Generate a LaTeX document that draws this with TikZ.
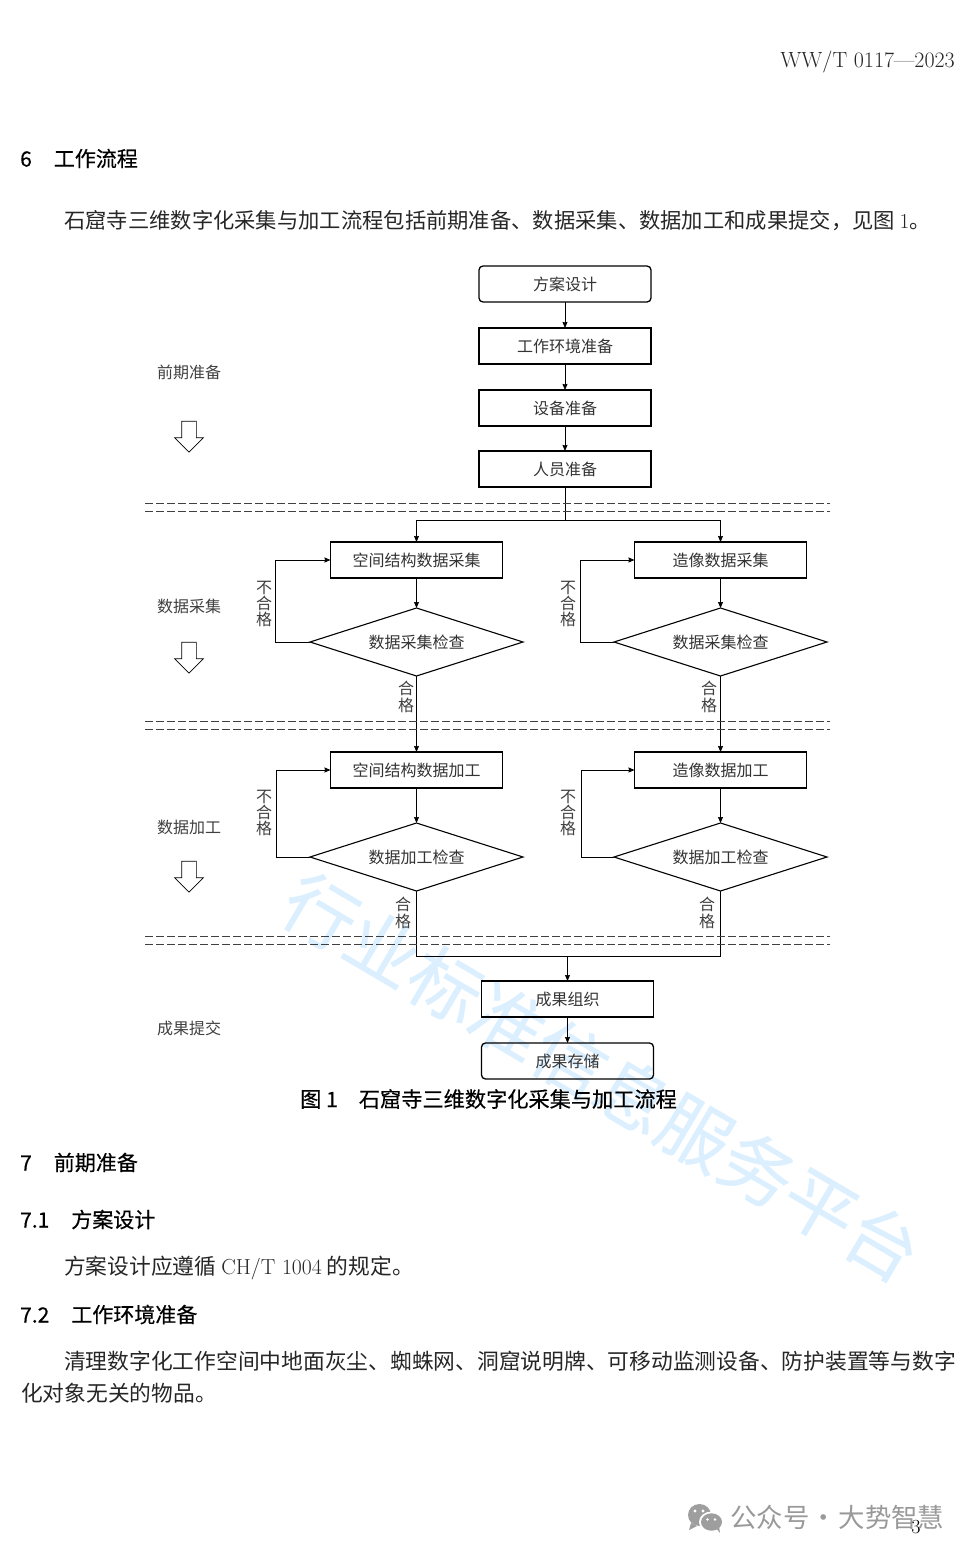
\documentclass[tikz,border=0pt]{standalone}
\usepackage{fontspec}
\usepackage{tikz}
\usetikzlibrary{arrows.meta,positioning,shapes,calc}
\newfontfamily\cjk{Noto Sans CJK SC}
\newfontfamily\cjkhead[FakeBold=0.4]{Noto Sans CJK SC}

\begin{document}
\begin{tikzpicture}[
    x=1pt, y=-1pt,
    node distance=26pt,
    box/.style={rectangle, draw, line width=1.3pt, outer sep=0pt, minimum width=172pt, minimum height=36pt, align=center, text=black!80, font=\cjk\fontsize{16}{16}\selectfont},
    startbox/.style={box, rounded corners=4pt},
    checkbox/.style={diamond, draw, line width=1.1pt, outer sep=0pt, inner sep=0pt, aspect=3.13, minimum width=213pt, minimum height=68pt, align=center, text=black!80, font=\cjk\fontsize{16}{16}\selectfont},
    flow/.style={-{Stealth[length=6pt,width=5pt,inset=0.5pt]}, line width=0.8pt},
    plainline/.style={line width=0.8pt},
    stage/.style={font=\cjk\fontsize{16}{16}\selectfont, text=black!75},
    verdict/.style={align=center, inner sep=0pt, font=\cjk\fontsize{16}{16.3}\selectfont, text=black!75},
    hollow/.style={single arrow, draw, line width=0.7pt, shape border rotate=270, minimum height=31pt, single arrow head extend=7pt, inner sep=0pt, outer sep=0pt},
    sepline/.style={dash pattern=on 8pt off 3pt, line width=0.7pt, black!75},
    pagetext/.style={anchor=west, inner sep=0pt, font=\cjk\fontsize{21.75}{21.75}\selectfont, text=black!85},
    headtext/.style={anchor=west, inner sep=0pt, font=\cjkhead\fontsize{21}{21}\selectfont}
]
\useasboundingbox (0,0) rectangle (974,1555);

% Watermark behind everything
\node[rotate=-30.5, inner sep=0pt, text=blue!45!cyan!14, font=\cjkhead\fontsize{72.5}{72.5}\selectfont] (stamp) at (602,1077) {行业标准信息服务平台};

% Page text
\node[anchor=east, inner sep=0pt, font=\fontsize{22}{22}\selectfont, text=black!85] (header) at (955,62) {WW/T 0117---2023};
\node[headtext] (secsix) at (20,158.5) {6\hspace{22pt}工作流程};
\node[pagetext, font=\cjk\fontsize{21.3}{21.3}\selectfont] (intro) at (64,221) {石窟寺三维数字化采集与加工流程包括前期准备、数据采集、数据加工和成果提交，见图 {\rmfamily 1}。};
\node[headtext, font=\cjkhead\fontsize{21.2}{21.2}\selectfont] (caption) at (300,1099) {图 1\hspace{21pt}石窟寺三维数字化采集与加工流程};
\node[headtext] (secseven) at (20,1162.5) {7\hspace{22pt}前期准备};
\node[headtext] (secone) at (20,1219.5) {7.1\hspace{22pt}方案设计};
\node[pagetext] (secnote) at (64,1267.5) {方案设计应遵循 {\rmfamily CH/T 1004} 的规定。};
\node[headtext] (sectwo) at (20,1314.5) {7.2\hspace{22pt}工作环境准备};
\node[pagetext] (clean) at (64,1361) {清理数字化工作空间中地面灰尘、蜘蛛网、洞窟说明牌、可移动监测设备、防护装置等与数字};
\node[pagetext] (cleanb) at (21,1393) {化对象无关的物品。};

% Preparation boxes
\node[startbox] (plan) at (565,284) {方案设计};
\node[box, below=of plan] (site) {工作环境准备};
\node[box, below=of site] (device) {设备准备};
\node[box, below=25pt of device] (staff) {人员准备};
\draw[flow] (plan) -- (site);
\draw[flow] (site) -- (device);
\draw[flow] (device) -- (staff);

% Collection
\node[box] (spacecollect) at (416.5,560) {空间结构数据采集};
\node[box, right=132pt of spacecollect] (statuecollect) {造像数据采集};
\node[checkbox, below=30pt of spacecollect] (spacecheck) {数据采集检查};
\node[checkbox, below=30pt of statuecollect] (statuecheck) {数据采集检查};
\coordinate (split) at (565,520);
\draw[plainline] (staff) -- (split);
\draw[flow] (split) -| (spacecollect.north);
\draw[flow] (split) -| (statuecollect.north);
\draw[flow] (spacecollect) -- (spacecheck);
\draw[flow] (statuecollect) -- (statuecheck);
\draw[flow] (spacecheck.west) -- ++(-35,0) |- (spacecollect.west);
\draw[flow] (statuecheck.west) -- ++(-34,0) |- (statuecollect.west);

% Processing
\node[box, below=76pt of spacecheck] (spacework) {空间结构数据加工};
\node[box, below=76pt of statuecheck] (statuework) {造像数据加工};
\node[checkbox, below=35pt of spacework] (spaceverify) {数据加工检查};
\node[checkbox, below=35pt of statuework] (statueverify) {数据加工检查};
\draw[flow] (spacecheck) -- (spacework);
\draw[flow] (statuecheck) -- (statuework);
\draw[flow] (spacework) -- (spaceverify);
\draw[flow] (statuework) -- (statueverify);
\draw[flow] (spaceverify.west) -- ++(-34,0) |- (spacework.west);
\draw[flow] (statueverify.west) -- ++(-33,0) |- (statuework.west);

% Delivery
\node[box] (result) at (567.5,999) {成果组织};
\node[startbox, below=of result] (store) {成果存储};
\coordinate (merge) at (567.5,956);
\draw[plainline] (spaceverify.south) |- (merge) -| (statueverify.south);
\draw[flow] (merge) -- (result);
\draw[flow] (result) -- (store);

% Stage separators
\draw[sepline] (145,503.5) -- (830,503.5);
\draw[sepline] (145,511) -- (830,511);
\draw[sepline] (145,721.5) -- (830,721.5);
\draw[sepline] (145,729) -- (830,729);
\draw[sepline] (145,936.5) -- (830,936.5);
\draw[sepline] (145,944.5) -- (830,944.5);

% Stage labels on left
\node[stage] (prep) at (189,372) {前期准备};
\node[stage] (collect) at (189,606) {数据采集};
\node[stage] (work) at (189,827) {数据加工};
\node[stage] (deliver) at (189,1028) {成果提交};
\node[hollow] (preparrow) at (189,433) {\phantom{\rule{14pt}{14pt}}};
\node[hollow] (collectarrow) at (189,654) {\phantom{\rule{14pt}{14pt}}};
\node[hollow] (workarrow) at (189,873) {\phantom{\rule{14pt}{14pt}}};

% Pass and fail marks
\node[verdict] (faila) at (264,604) {不\\合\\格};
\node[verdict] (failb) at (568,604) {不\\合\\格};
\node[verdict] (faild) at (264,813) {不\\合\\格};
\node[verdict] (faile) at (568,813) {不\\合\\格};
\node[verdict] (passa) at (406,697) {合\\格};
\node[verdict] (passb) at (709,697) {合\\格};
\node[verdict] (passd) at (403,913) {合\\格};
\node[verdict] (passe) at (707,913) {合\\格};

% Account mark and page number
\fill[black!38] (699.5,1515) ellipse (11.5pt and 11pt);
\fill[black!38] (691,1523) -- (689,1530) -- (697,1526) -- cycle;
\fill[white] (711.5,1522) ellipse (12.5pt and 10.5pt);
\fill[black!38] (711.5,1522) ellipse (10.5pt and 8.7pt);
\fill[black!38] (716,1528) -- (720,1533) -- (719,1526) -- cycle;
\fill[white] (695,1511) circle (1.7pt) (703,1511) circle (1.7pt) (707.5,1519.5) circle (1.3pt) (715,1519.5) circle (1.3pt);
\node[anchor=west, inner sep=0pt, text=black!40, font=\cjk\fontsize{26.4}{26.4}\selectfont] (account) at (730,1517) {公众号\hspace{1.5pt}·\hspace{1.5pt}大势智慧};
\node[inner sep=0pt, font=\fontsize{20}{20}\selectfont] (pagenum) at (916,1527) {3};
\end{tikzpicture}
\end{document}
